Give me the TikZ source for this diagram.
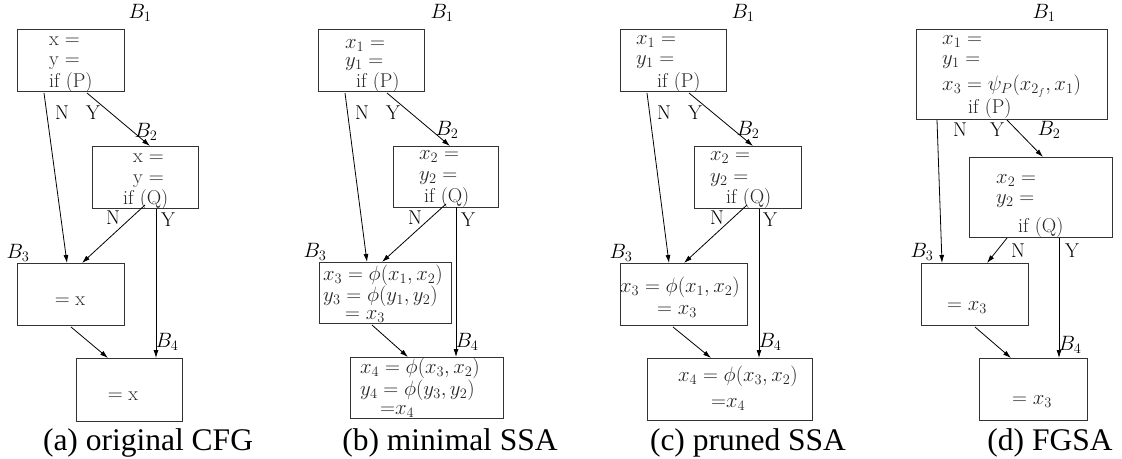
\documentclass[tikz,border=0pt]{standalone}
\usepackage{fontspec}
\newfontfamily\capfont[Ligatures=TeX]{Liberation Serif}
\usetikzlibrary{arrows.meta}
\tikzset{
 bx/.style={draw=black!80, line width=0.9pt, inner sep=0pt, outer sep=0pt, anchor=north west},
 tx/.style={anchor=base west, inner sep=0pt, text=black!85, font=\fontsize{20}{22}\selectfont},
 tc/.style={anchor=base, inner sep=0pt, text=black!85, font=\fontsize{20}{22}\selectfont},
 lb/.style={inner sep=0pt, font=\fontsize{20}{22}\selectfont},
 arr/.style={-{Latex[length=8pt,width=5pt]}, line width=0.8pt},
 captxt/.style={anchor=base, inner sep=0pt, font=\capfont\fontsize{31.5}{36}\selectfont},
}
\begin{document}
\begin{tikzpicture}[x=1pt,y=-1pt]
\useasboundingbox (0,0) rectangle (1122,458);
% ---------------- (a) ----------------
\node[bx, minimum width=107pt, minimum height=62pt] (a1) at (17,29) {};
\node[bx, minimum width=106pt, minimum height=62pt] (a2) at (92,146) {};
\node[bx, minimum width=107pt, minimum height=62pt] (a3) at (17,263) {};
\node[bx, minimum width=106pt, minimum height=63pt] (a4) at (76,358) {};
\node[tx] (a1t1) at (49,45) {x $=$};
\node[tx] (a1t2) at (49,65) {y $=$};
\node[tx] (a1t3) at (49,87) {if (P)};
\node[tx] (a2t1) at (133,162) {x $=$};
\node[tx] (a2t2) at (133,183) {y $=$};
\node[tx] (a2t3) at (123,204) {if (Q)};
\node[tc] (a3t1) at (70,305) {$=\mathrm{x}$};
\node[tc] (a4t1) at (123,400) {$=\mathrm{x}$};
\node[lb] (aB1) at (140,13) {$B_1$};
\node[lb] (aB2) at (146,132) {$B_2$};
\node[lb] (aB3) at (18,253) {$B_3$};
\node[lb] (aB4) at (167,342) {$B_4$};
\node[lb] (aN1) at (62,113) {N};
\node[lb] (aY1) at (93,113) {Y};
\node[lb] (aN2) at (113,218) {N};
\node[lb] (aY2) at (168,220) {Y};
\draw[arr] ([xshift=27pt,yshift=-2pt]a1.south west) -- ([xshift=50pt]a3.north west);
\draw[arr] ([xshift=70pt,yshift=-2pt]a1.south west) -- ([xshift=58pt]a2.north west);
\draw[arr] ([xshift=53pt,yshift=3pt]a2.south west) -- ([xshift=65pt]a3.north west);
\draw[arr] ([xshift=64pt,yshift=-1pt]a2.south west) -- ([xshift=80pt]a4.north west);
\draw[arr] ([xshift=54pt,yshift=-2pt]a3.south west) -- ([xshift=32pt]a4.north west);
\node[captxt] (acap) at (148,450) {(a) original CFG};
% ---------------- (b) ----------------
\node[bx, minimum width=106pt, minimum height=62pt] (b1) at (318,29) {};
\node[bx, minimum width=105pt, minimum height=61pt] (b2) at (393,146) {};
\node[bx, minimum width=132pt, minimum height=61pt] (b3) at (319,262) {};
\node[bx, minimum width=153pt, minimum height=61pt] (b4) at (350,357) {};
\node[tx] (b1t1) at (345,48) {$x_1 =$};
\node[tx] (b1t2) at (345,66) {$y_1 =$};
\node[tx] (b1t3) at (356,87) {if (P)};
\node[tx] (b2t1) at (419,159) {$x_2 =$};
\node[tx] (b2t2) at (419,180) {$y_2 =$};
\node[tx] (b2t3) at (424,202) {if (Q)};
\node[tx] (b3t1) at (323,280) {$x_3 = \phi(x_1, x_2)$};
\node[tx] (b3t2) at (323,301) {$y_3 = \phi(y_1, y_2)$};
\node[tx] (b3t3) at (345,319) {$= x_3$};
\node[tx] (b4t1) at (360,373) {$x_4 = \phi(x_3, x_2)$};
\node[tx] (b4t2) at (360,395) {$y_4 = \phi(y_3, y_2)$};
\node[tx] (b4t3) at (380,414) {${=}x_4$};
\node[lb] (bB1) at (442,13) {$B_1$};
\node[lb] (bB2) at (447,130) {$B_2$};
\node[lb] (bB3) at (315,252) {$B_3$};
\node[lb] (bB4) at (467,342) {$B_4$};
\node[lb] (bN1) at (362,113) {N};
\node[lb] (bY1) at (393,113) {Y};
\node[lb] (bN2) at (415,218) {N};
\node[lb] (bY2) at (468,220) {Y};
\draw[arr] ([xshift=27pt,yshift=-2pt]b1.south west) -- ([xshift=48pt]b3.north west);
\draw[arr] ([xshift=69pt,yshift=-2pt]b1.south west) -- ([xshift=57pt]b2.north west);
\draw[arr] ([xshift=53pt,yshift=3pt]b2.south west) -- ([xshift=63pt]b3.north west);
\draw[arr] ([xshift=63pt]b2.south west) -- ([xshift=106pt]b4.north west);
\draw[arr] ([xshift=53pt,yshift=-2pt]b3.south west) -- ([xshift=58pt]b4.north west);
\node[captxt] (bcap) at (450,450) {(b) minimal SSA};
% ---------------- (c) ----------------
\node[bx, minimum width=106pt, minimum height=62pt] (c1) at (620,29) {};
\node[bx, minimum width=107pt, minimum height=62pt] (c2) at (694,146) {};
\node[bx, minimum width=127pt, minimum height=62pt] (c3) at (620,263) {};
\node[bx, minimum width=165pt, minimum height=62pt] (c4) at (647,358) {};
\node[tx] (c1t1) at (636,44) {$x_1 =$};
\node[tx] (c1t2) at (636,64) {$y_1 =$};
\node[tx] (c1t3) at (657,87) {if (P)};
\node[tx] (c2t1) at (710,160) {$x_2 =$};
\node[tx] (c2t2) at (710,182) {$y_2 =$};
\node[tx] (c2t3) at (726,203) {if (Q)};
\node[tx] (c3t1) at (620,292) {$x_3 = \phi(x_1, x_2)$};
\node[tx] (c3t2) at (657,314) {$= x_3$};
\node[tx] (c4t1) at (678,381) {$x_4 = \phi(x_3, x_2)$};
\node[tx] (c4t2) at (711,407) {${=}x_4$};
\node[lb] (cB1) at (743,13) {$B_1$};
\node[lb] (cB2) at (748,130) {$B_2$};
\node[lb] (cB3) at (621,253) {$B_3$};
\node[lb] (cB4) at (770,342) {$B_4$};
\node[lb] (cN1) at (664,113) {N};
\node[lb] (cY1) at (695,113) {Y};
\node[lb] (cN2) at (717,218) {N};
\node[lb] (cY2) at (770,220) {Y};
\draw[arr] ([xshift=27pt,yshift=-2pt]c1.south west) -- ([xshift=49pt]c3.north west);
\draw[arr] ([xshift=69pt,yshift=-2pt]c1.south west) -- ([xshift=59pt]c2.north west);
\draw[arr] ([xshift=53pt,yshift=3pt]c2.south west) -- ([xshift=64pt]c3.north west);
\draw[arr] ([xshift=65pt,yshift=-1pt]c2.south west) -- ([xshift=112pt]c4.north west);
\draw[arr] ([xshift=53pt,yshift=-2pt]c3.south west) -- ([xshift=64pt]c4.north west);
\node[captxt] (ccap) at (748,450) {(c) pruned SSA};
% ---------------- (d) ----------------
\node[bx, minimum width=191pt, minimum height=90pt] (d1) at (916,29) {};
\node[bx, minimum width=143pt, minimum height=80pt] (d2) at (969,157) {};
\node[bx, minimum width=107pt, minimum height=62pt] (d3) at (921,263) {};
\node[bx, minimum width=108pt, minimum height=62pt] (d4) at (979,358) {};
\node[tx] (d1t1) at (942,44) {$x_1 =$};
\node[tx] (d1t2) at (942,64) {$y_1 =$};
\node[tx] (d1t3) at (942,90) {$x_3 = \psi_P(x_{2_f}, x_1)$};
\node[tx] (d1t4) at (968,113) {if (P)};
\node[tx] (d2t1) at (996,183) {$x_2 =$};
\node[tx] (d2t2) at (996,203) {$y_2 =$};
\node[tx] (d2t3) at (1018,232) {if (Q)};
\node[tx] (d3t1) at (947,310) {$= x_3$};
\node[tx] (d4t1) at (1012,404) {$= x_3$};
\node[lb] (dB1) at (1044,13) {$B_1$};
\node[lb] (dB2) at (1049,130) {$B_2$};
\node[lb] (dB3) at (922,252) {$B_3$};
\node[lb] (dB4) at (1070,345) {$B_4$};
\node[lb] (dN1) at (960,130) {N};
\node[lb] (dY1) at (997,130) {Y};
\node[lb] (dN2) at (1018,251) {N};
\node[lb] (dY2) at (1072,251) {Y};
\draw[arr] ([xshift=21pt,yshift=-1pt]d1.south west) -- ([xshift=21pt]d3.north west);
\draw[arr] ([xshift=91pt,yshift=-1pt]d1.south west) -- ([xshift=74pt]d2.north west);
\draw[arr] ([xshift=38pt,yshift=-1pt]d2.south west) -- ([xshift=66pt]d3.north west);
\draw[arr] ([xshift=90pt,yshift=-1pt]d2.south west) -- ([xshift=80pt]d4.north west);
\draw[arr] ([xshift=54pt,yshift=-2pt]d3.south west) -- ([xshift=32pt]d4.north west);
\node[captxt] (dcap) at (1050,450) {(d) FGSA};
\end{tikzpicture}
\end{document}
